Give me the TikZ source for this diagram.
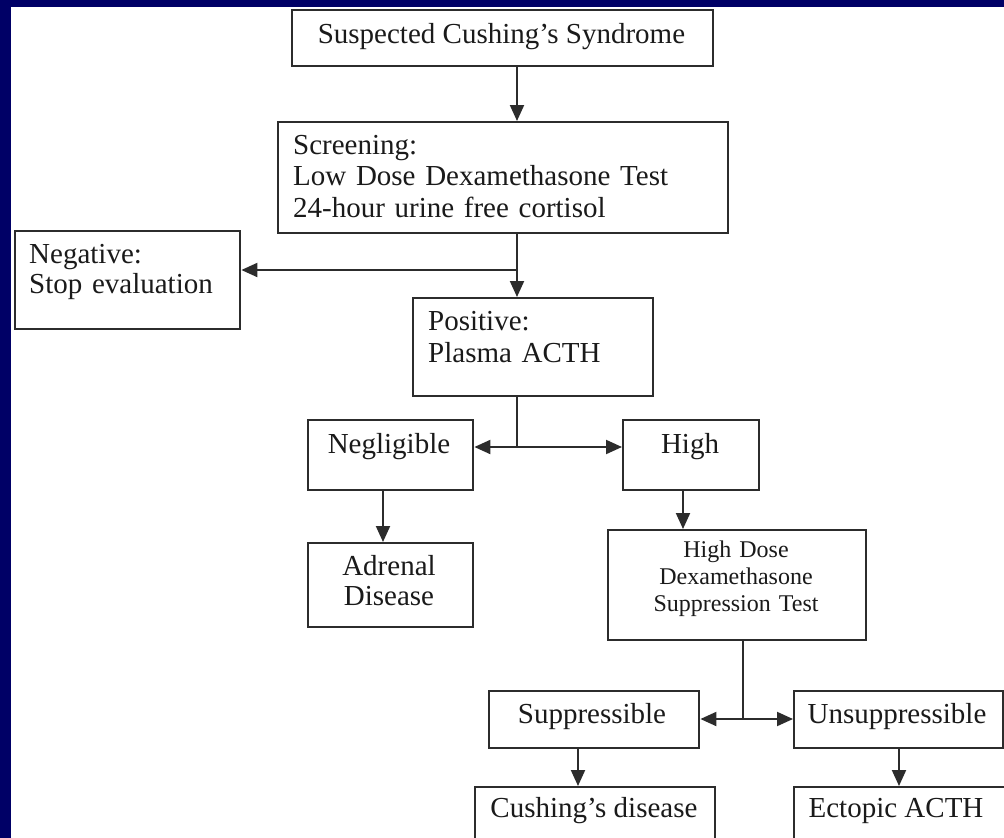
\documentclass[tikz,border=0pt]{standalone}
\usepackage{fontspec}
\setmainfont{Liberation Serif}
\usetikzlibrary{arrows.meta,calc}
\definecolor{navy}{HTML}{000066}
\definecolor{ink}{HTML}{1A1A1A}
\definecolor{edge}{HTML}{2C2C2C}
\begin{document}
\begin{tikzpicture}[x=1pt,y=-1pt,
  box/.style={draw=edge, line width=2.4pt, fill=white, anchor=north west, inner sep=0pt},
  txt/.style={inner sep=0pt, text=ink, font=\fontsize{29}{31.5}\selectfont},
  small/.style={inner sep=0pt, text=ink, font=\fontsize{24}{27}\selectfont},
  conn/.style={draw=edge, line width=2pt},
  arr/.style={conn, -{Triangle[length=16pt,width=14pt]}}]
\useasboundingbox (0,0) rectangle (1004,838);
\fill[navy] (0,0) rectangle (1004,838);
\fill[white] (11,7) rectangle (1004,838);
\begin{scope}
\clip (11,7) rectangle (1004,838);
% boxes
\node[box, minimum width=421pt, minimum height=56pt]  (sus)    at (291,9)   {};
\node[box, minimum width=450pt, minimum height=111pt] (scr)    at (277,121) {};
\node[box, minimum width=225pt, minimum height=98pt]  (neg)    at (14,230)  {};
\node[box, minimum width=240pt, minimum height=98pt]  (pos)    at (412,297) {};
\node[box, minimum width=165pt, minimum height=70pt]  (negl)   at (307,419) {};
\node[box, minimum width=136pt, minimum height=70pt]  (high)   at (622,419) {};
\node[box, minimum width=165pt, minimum height=84pt]  (adr)    at (307,542) {};
\node[box, minimum width=258pt, minimum height=110pt] (hd)     at (607,529) {};
\node[box, minimum width=210pt, minimum height=57pt]  (supp)   at (488,690) {};
\node[box, minimum width=209pt, minimum height=57pt]  (unsupp) at (793,690) {};
\node[box, minimum width=240pt, minimum height=80pt]  (cd)     at (474,786) {};
\node[box, minimum width=240pt, minimum height=80pt]  (ect)    at (793,786) {};
% texts
\node[txt, anchor=base] (tsus) at (501.5,43) {Suspected Cushing’s Syndrome};
\node[txt, anchor=base west, text width=425pt, align=left] (tscr) at (293,154)
  {Screening:\\Low Dose Dexamethasone Test\\24-hour urine free cortisol};
\node[txt, anchor=base west, text width=205pt, align=left, font=\fontsize{29}{30}\selectfont] (tneg) at (29,263)
  {Negative:\\Stop evaluation};
\node[txt, anchor=base west, text width=215pt, align=left, font=\fontsize{29}{32}\selectfont] (tpos) at (428,330)
  {Positive:\\Plasma ACTH};
\node[txt, anchor=base] (tnegl) at (389,453) {Negligible};
\node[txt, anchor=base] (thigh) at (690,453) {High};
\node[txt, anchor=base, text width=160pt, align=center, font=\fontsize{29}{30}\selectfont] (tadr) at (389,575)
  {Adrenal\\Disease};
\node[small, anchor=base, text width=250pt, align=center] (thd) at (736,557)
  {High Dose\\Dexamethasone\\Suppression Test};
\node[txt, anchor=base] (tsupp) at (592,723) {Suppressible};
\node[txt, anchor=base] (tunsupp) at (897,723) {Unsuppressible};
\node[txt, anchor=base] (tcd) at (594,817) {Cushing’s disease};
\node[txt, anchor=base] (tect) at (896,817) {Ectopic ACTH};
% connector helpers
\coordinate (tx) at (517,0);
\coordinate (b1) at (517,270);
\coordinate (b2) at (517,447);
\coordinate (ax) at (383,0);
\coordinate (hx) at (683,0);
\coordinate (b3) at (743,719);
\coordinate (sx) at (578,0);
\coordinate (ux) at (899,0);
% connectors
\draw[arr] (sus.south -| tx) -- (scr.north -| tx);
\draw[arr] (scr.south -| tx) -- (pos.north -| tx);
\draw[arr] (b1) -- (neg.east |- b1);
\draw[conn] (pos.south -| tx) -- (b2);
\draw[arr] (b2) -- (negl.east |- b2);
\draw[arr] (b2) -- (high.west |- b2);
\draw[arr] (negl.south -| ax) -- (adr.north -| ax);
\draw[arr] (high.south -| hx) -- (hd.north -| hx);
\draw[conn] (hd.south -| b3) -- (b3);
\draw[arr] (b3) -- (supp.east |- b3);
\draw[arr] (b3) -- (unsupp.west |- b3);
\draw[arr] (supp.south -| sx) -- (cd.north -| sx);
\draw[arr] (unsupp.south -| ux) -- (ect.north -| ux);
\end{scope}
\end{tikzpicture}
\end{document}
